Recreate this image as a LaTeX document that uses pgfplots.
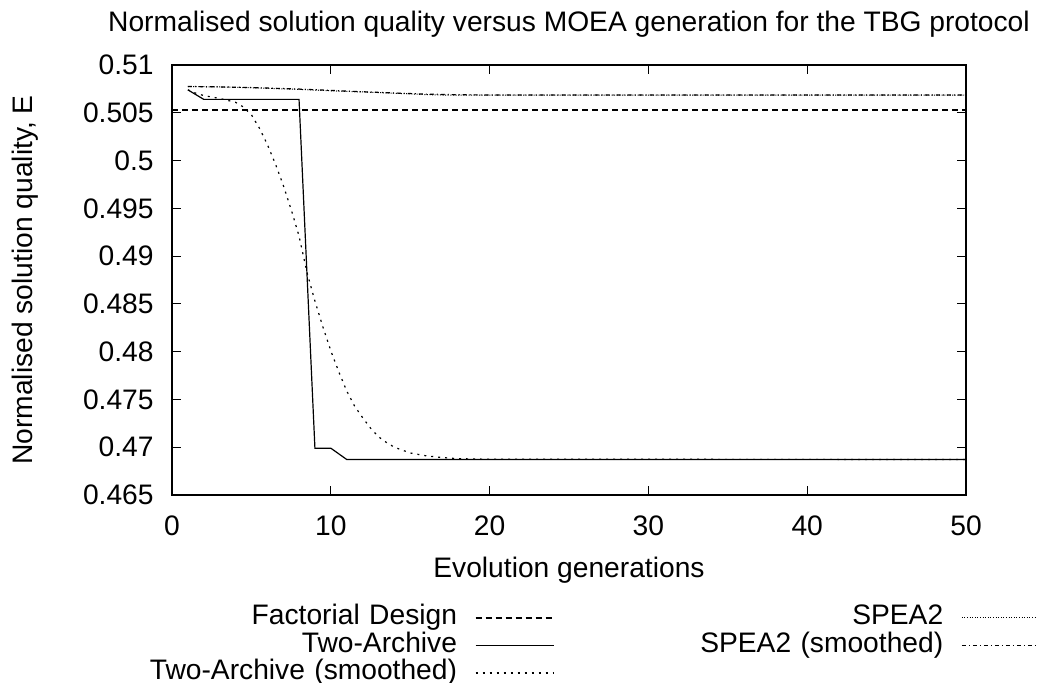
\documentclass[border=0pt]{standalone}
\usepackage{fontspec}
\setmainfont{Liberation Sans}
\usepackage{pgfplots}
\pgfplotsset{compat=1.18}
\begin{document}
\begin{tikzpicture}[font=\fontsize{14.1}{16.5}\selectfont]
\path[use as bounding box] (-86pt,-94pt) rectangle (432.5pt,247.5pt);
\begin{axis}[
  scale only axis, width=397pt, height=215pt,
  xmin=0, xmax=50, ymin=0.465, ymax=0.51,
  xtick={0,10,20,30,40,50},
  ytick={0.465,0.47,0.475,0.48,0.485,0.49,0.495,0.5,0.505,0.51},
  scaled y ticks=false,
  /pgf/number format/assume math mode=true,
  yticklabel style={/pgf/number format/fixed,/pgf/number format/precision=3, inner sep=0pt, xshift=-9pt},
  xticklabel style={inner sep=0pt, yshift=-10pt},
  tick align=inside, major tick length=4.5pt,
  axis line style={line width=0.75pt}, tick style={line width=0.6pt, black},
  title={Normalised solution quality versus MOEA generation for the TBG protocol},
  title style={at={(axis description cs:0.5,1)}, anchor=base, yshift=10.6pt, inner sep=0pt},
  xlabel={Evolution generations},
  xlabel style={at={(axis description cs:0.5,0)}, anchor=base, yshift=-41.5pt, inner sep=0pt},
  ylabel={Normalised solution quality, E},
  ylabel style={at={(axis description cs:-0.1763,0.5)}, anchor=base, inner sep=0pt},
  legend columns=2,
  legend plot pos=right,
  legend cell align=right,
  legend image code/.code={\draw[#1] (0pt,0pt) -- (39pt,0pt);},
  legend style={at={(axis description cs:-0.2166,-0.2558)}, anchor=north west,
    draw=none, fill=none, inner sep=0pt, outer sep=0pt, row sep=0.75pt,
    nodes={inner sep=0pt, text height=10pt, text depth=3pt},
    /tikz/column 1/.style={column sep=9pt, nodes={text width=228.5pt, align=right}},
    /tikz/column 2/.style={column sep=0pt},
    /tikz/column 3/.style={column sep=9pt, nodes={text width=194.5pt, align=right}}},
]
% Factorial Design
\addplot[black, line width=0.6pt, dash pattern=on 3pt off 2pt] coordinates {(0,0.50529) (50,0.50529)};
\addlegendentry{Factorial Design}
% SPEA2
\addplot[black, line width=0.5pt, dash pattern=on 0.5pt off 0.8pt] coordinates {
(1,0.50775) (3,0.50770) (5,0.50762) (8,0.50745) (10,0.50730) (12,0.50718) (14,0.50705) (16,0.50690) (17,0.50686) (50,0.50686)};
\addlegendentry{SPEA2}
% Two-Archive
\addplot[black, line width=0.6pt] coordinates {
(1,0.5074) (2,0.5064) (8,0.5064) (9,0.4699) (10,0.4699) (11,0.46872) (50,0.46872)};
\addlegendentry{Two-Archive}
% SPEA2 (smoothed)
\addplot[black, line width=0.6pt, dash pattern=on 2pt off 1.5pt on 0.5pt off 1.5pt] coordinates {
(1,0.50775) (3,0.50771) (5,0.50764) (8,0.50748) (10,0.50734) (12,0.50720) (14,0.50707) (16,0.50695) (18,0.50689) (20,0.50686) (50,0.50686)};
\addlegendentry{SPEA2 (smoothed)}
% Two-Archive (smoothed)
\addplot[black, line width=0.6pt, dash pattern=on 1pt off 2.5pt] coordinates {
(1,0.5074) (1.5,0.50705) (2,0.5068) (2.5,0.50665) (3,0.5065) (3.5,0.5063) (4,0.5061) (4.5,0.5056)
(5,0.5048) (5.5,0.5034) (6,0.5017) (6.5,0.4997) (7,0.49745) (7.5,0.4949) (8,0.4921) (8.5,0.4883)
(9,0.4853) (9.5,0.4826) (10,0.4801) (10.5,0.4779) (11,0.4759) (11.5,0.4743) (12,0.4731) (12.5,0.4720)
(13,0.4711) (13.5,0.4705) (14,0.4700) (15,0.4694) (16,0.4691) (17,0.46892) (18,0.46880) (20,0.46874) (50,0.46872)};
\addlegendentry{Two-Archive (smoothed)}
\end{axis}
\end{tikzpicture}
\end{document}
